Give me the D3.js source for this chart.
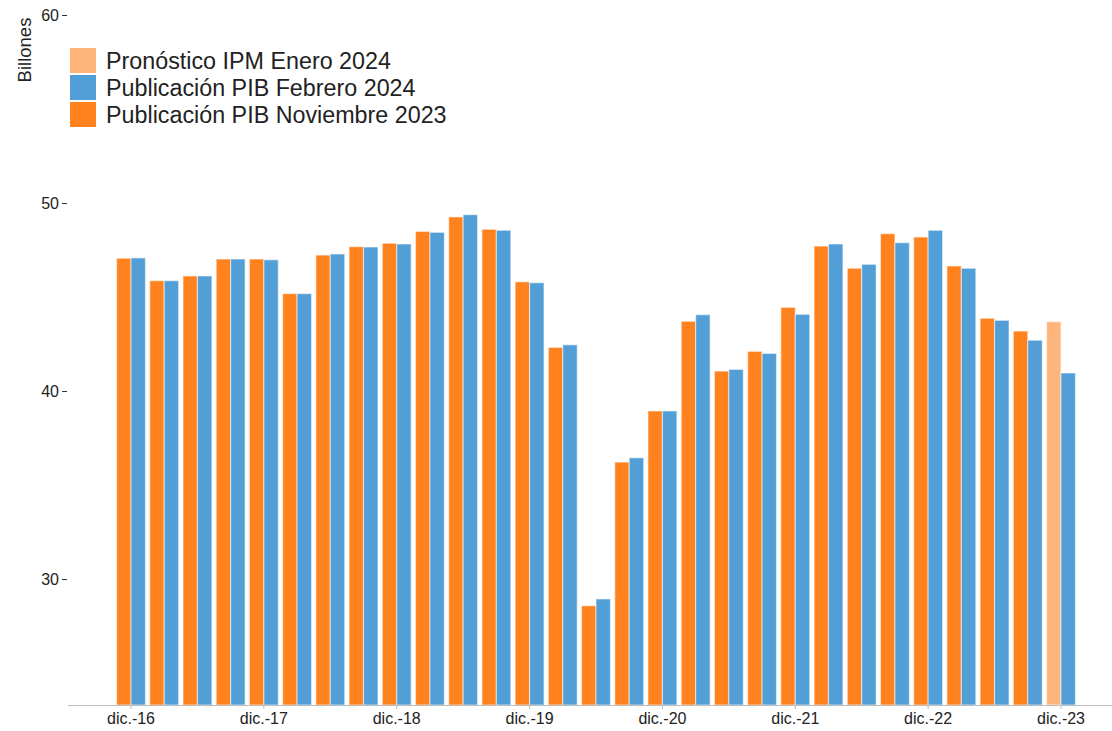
<!DOCTYPE html>
<html>
<head>
<meta charset="utf-8">
<title>Billones trimestrales</title>
<script src="https://d3js.org/d3.v7.min.js"></script>
<style>
  body { margin: 0; padding: 0; background: #fff; }
  svg text { font-family: Arial, "Liberation Sans", sans-serif; fill: #222; }
</style>
</head>
<body>
<script>
// quarters from dic.-16 to dic.-23
var quarters = ["dic.-16","mar.-17","jun.-17","sep.-17","dic.-17","mar.-18","jun.-18","sep.-18",
  "dic.-18","mar.-19","jun.-19","sep.-19","dic.-19","mar.-20","jun.-20","sep.-20",
  "dic.-20","mar.-21","jun.-21","sep.-21","dic.-21","mar.-22","jun.-22","sep.-22",
  "dic.-22","mar.-23","jun.-23","sep.-23","dic.-23"];

// Publicación PIB Noviembre 2023 (last quarter is the IPM forecast)
var pibNov = [47.06,45.87,46.12,47.02,47.02,45.18,47.23,47.68,
  47.86,48.49,49.26,48.60,45.81,42.32,28.58,36.22,
  38.94,43.71,41.06,42.11,44.45,47.71,46.53,48.37,
  48.19,46.65,43.87,43.19,null];
// Pronóstico IPM Enero 2024
var ipmEne = [null,null,null,null,null,null,null,null,
  null,null,null,null,null,null,null,null,
  null,null,null,null,null,null,null,null,
  null,null,null,null,43.69];
// Publicación PIB Febrero 2024
var pibFeb = [47.08,45.87,46.12,47.02,46.98,45.18,47.29,47.66,
  47.82,48.44,49.38,48.55,45.76,42.46,28.94,36.45,
  38.94,44.06,41.15,42.00,44.08,47.82,46.74,47.89,
  48.55,46.53,43.76,42.70,40.96];

var yTicks = [30, 40, 50, 60];
var xTickLabels = ["dic.-16","dic.-17","dic.-18","dic.-19","dic.-20","dic.-21","dic.-22","dic.-23"];

var legendItems = [
  {name: "Pronóstico IPM Enero 2024", color: "#ffb67c"},
  {name: "Publicación PIB Febrero 2024", color: "#529fd8"},
  {name: "Publicación PIB Noviembre 2023", color: "#ff821e"}
];

var w = 1112, h = 731;
var svg = d3.select("body").append("svg")
  .attr("width", w)
  .attr("height", h);

var y = d3.scaleLinear().domain([23.3, 60]).range([705, 15]);

var x = d3.scaleBand().domain(quarters)
  .range([114.4, 1077.6])
  .paddingInner(0.13)
  .paddingOuter(0.065);

var sub = d3.scaleBand().domain(["a", "b"]).range([0, x.bandwidth()]);

// bars
var rows = quarters.map(function(q, i) {
  return [
    {q: q, k: "a", v: pibNov[i] != null ? pibNov[i] : ipmEne[i], c: pibNov[i] != null ? "#ff821e" : "#ffb67c"},
    {q: q, k: "b", v: pibFeb[i], c: "#529fd8"}
  ];
});
var flat = [].concat.apply([], rows).filter(function(d) { return d.v != null; });

svg.append("g").selectAll("rect")
  .data(flat)
  .enter().append("rect")
  .attr("x", function(d) { return x(d.q) + sub(d.k); })
  .attr("width", sub.bandwidth())
  .attr("y", function(d) { return y(d.v); })
  .attr("height", function(d) { return y(23.3) - y(d.v); })
  .attr("fill", function(d) { return d.c; })
  .attr("stroke", "#fff")
  .attr("stroke-opacity", 0.5)
  .attr("stroke-width", 1.2);

// x axis
var xAxis = svg.append("g")
  .attr("transform", "translate(0,705)")
  .call(d3.axisBottom(x)
    .tickValues(xTickLabels)
    .tickSize(4)
    .tickSizeOuter(0)
    .tickPadding(4));
xAxis.select(".domain").remove();
xAxis.append("line")
  .attr("x1", 68).attr("x2", 1112)
  .attr("y1", 0.5).attr("y2", 0.5)
  .attr("stroke", "#bdbdbd");
xAxis.selectAll(".tick line").attr("stroke", "#bdbdbd");
xAxis.selectAll(".tick text")
  .attr("font-size", 16)
  .attr("fill", "#222")
  .attr("font-family", "Arial, 'Liberation Sans', sans-serif");

// y axis
var yAxis = svg.append("g")
  .attr("transform", "translate(67,0)")
  .call(d3.axisLeft(y)
    .tickValues(yTicks)
    .tickSize(5)
    .tickPadding(3));
yAxis.select(".domain").remove();
yAxis.selectAll(".tick line").attr("stroke", "#333");
yAxis.selectAll(".tick text")
  .attr("font-size", 16)
  .attr("fill", "#222")
  .attr("font-family", "Arial, 'Liberation Sans', sans-serif");

svg.append("text")
  .attr("transform", "translate(31,50) rotate(-90)")
  .attr("text-anchor", "middle")
  .attr("font-size", 18.5)
  .text("Billones");

// legend
var legend = svg.append("g").attr("transform", "translate(70,48)");
var li = legend.selectAll("g")
  .data(legendItems)
  .enter().append("g")
  .attr("transform", function(d, i) { return "translate(0," + (i * 27) + ")"; });
li.append("rect")
  .attr("width", 26).attr("height", 25)
  .attr("fill", function(d) { return d.color; });
li.append("text")
  .attr("x", 36).attr("y", 21)
  .attr("font-size", 23.3)
  .text(function(d) { return d.name; });
</script>
</body>
</html>
